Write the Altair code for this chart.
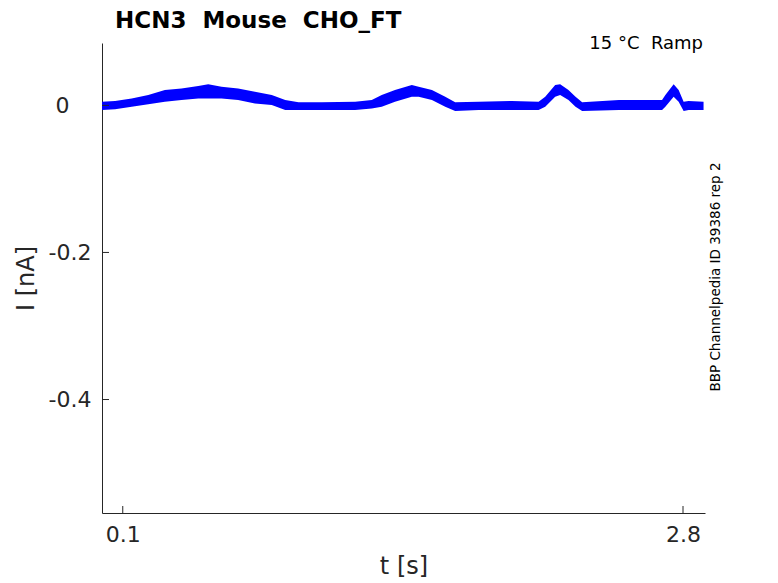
import altair as alt
import pandas as pd

# Envelope of the noisy current trace
t_s = [0.000, 0.063, 0.143, 0.223, 0.303, 0.383, 0.464, 0.512, 0.576, 0.656,
       0.737, 0.818, 0.883, 0.947, 1.059, 1.220, 1.300, 1.348, 1.412, 1.493,
       1.526, 1.590, 1.654, 1.702, 1.815, 1.975, 2.104, 2.136, 2.184, 2.208,
       2.248, 2.282, 2.314, 2.491, 2.699, 2.715, 2.755, 2.779, 2.803, 2.827,
       2.899]
i_hi = [0.0049, 0.0059, 0.0095, 0.0140, 0.0208, 0.0231, 0.0263, 0.0286, 0.0253, 0.0231,
        0.0185, 0.0140, 0.0072, 0.0041, 0.0041, 0.0049, 0.0072, 0.0140, 0.0208, 0.0276,
        0.0253, 0.0208, 0.0117, 0.0041, 0.0049, 0.0059, 0.0049, 0.0117, 0.0276, 0.0286,
        0.0208, 0.0117, 0.0041, 0.0072, 0.0072, 0.0140, 0.0286, 0.0208, 0.0049, 0.0059,
        0.0049]
i_lo = [-0.0064, -0.0054, -0.0019, 0.0014, 0.0049, 0.0072, 0.0095, 0.0095, 0.0095, 0.0072,
        0.0027, 0.0004, -0.0064, -0.0064, -0.0064, -0.0064, -0.0041, -0.0019, 0.0049, 0.0117,
        0.0117, 0.0072, -0.0019, -0.0078, -0.0064, -0.0064, -0.0064, -0.0019, 0.0117, 0.0140,
        0.0072, -0.0019, -0.0078, -0.0064, -0.0064, -0.0019, 0.0117, 0.0049, -0.0078, -0.0064,
        -0.0064]

x_ticks = [0.1, 2.8]
y_ticks = [0, -0.2, -0.4]

NB = "\u00a0"
title_text = "HCN3" + NB + NB + "Mouse" + NB + NB + "CHO_FT"
cond_text = "15 °C" + NB + NB + "Ramp"
side_text = "BBP Channelpedia ID 39386 rep 2"

W, H = 603, 470
AX = "#262626"

df = pd.DataFrame({"t": t_s, "hi": i_hi, "lo": i_lo})
xs = alt.Scale(domain=[0, 2.906], nice=False, zero=False)
ys = alt.Scale(domain=[-0.5543, 0.0848], nice=False, zero=False)

trace = alt.Chart(df).mark_area(color="#0000ff", opacity=1).encode(
    x=alt.X("t:Q", scale=xs, title="t [s]",
            axis=alt.Axis(values=x_ticks, labelExpr="toString(datum.value)",
                          domainColor=AX, ticks=False, grid=False,
                          labelFontSize=22, labelColor=AX, labelPadding=11,
                          labelFont="DejaVu Sans", titleFont="DejaVu Sans",
                          titleFontSize=24, titleFontWeight="normal", titleColor=AX,
                          titlePadding=9)),
    y=alt.Y("hi:Q", scale=ys, title="I [nA]",
            axis=alt.Axis(values=y_ticks,
                          labelExpr="datum.value == 0 ? '0' : toString(datum.value)",
                          domainColor=AX, ticks=False, grid=False,
                          labelFontSize=22, labelColor=AX,
                          labelPadding={"condition": {"test": "datum.value == 0", "value": 33},
                                        "value": 11},
                          labelFont="DejaVu Sans", titleFont="DejaVu Sans",
                          titleFontSize=24, titleFontWeight="normal", titleColor=AX,
                          titlePadding=10)),
    y2="lo:Q",
)

ytk = alt.Chart(pd.DataFrame({"v": y_ticks})).mark_rule(color=AX, strokeWidth=1).encode(
    y=alt.Y("v:Q", scale=ys), x=alt.value(0), x2=alt.value(7)
)
xtk = alt.Chart(pd.DataFrame({"t": x_ticks})).mark_rule(color=AX, strokeWidth=1).encode(
    x=alt.X("t:Q", scale=xs), y=alt.value(H), y2=alt.value(H - 7)
)

title = alt.Chart(pd.DataFrame({"s": [title_text]})).mark_text(
    align="left", baseline="alphabetic", fontSize=23, fontWeight="bold",
    font="DejaVu Sans", color="#000000"
).encode(text="s:N", x=alt.value(13), y=alt.value(-15))

cond = alt.Chart(pd.DataFrame({"s": [cond_text]})).mark_text(
    align="right", baseline="alphabetic", fontSize=18,
    font="DejaVu Sans", color="#000000"
).encode(text="s:N", x=alt.value(601), y=alt.value(6))

side = alt.Chart(pd.DataFrame({"s": [side_text]})).mark_text(
    align="center", baseline="middle", fontSize=13.5, angle=270,
    font="DejaVu Sans", color="#000000"
).encode(text="s:N", x=alt.value(614), y=alt.value(234))

chart = alt.layer(trace, ytk, xtk, title, cond, side).properties(
    width=W, height=H,
    background="white",
    autosize=alt.AutoSizeParams(type="none"),
    padding={"left": 94, "top": 35, "right": 65, "bottom": 70},
).configure_view(stroke=None, strokeWidth=0)

chart.save("out.html", embed_options={"renderer": "svg", "actions": False})
